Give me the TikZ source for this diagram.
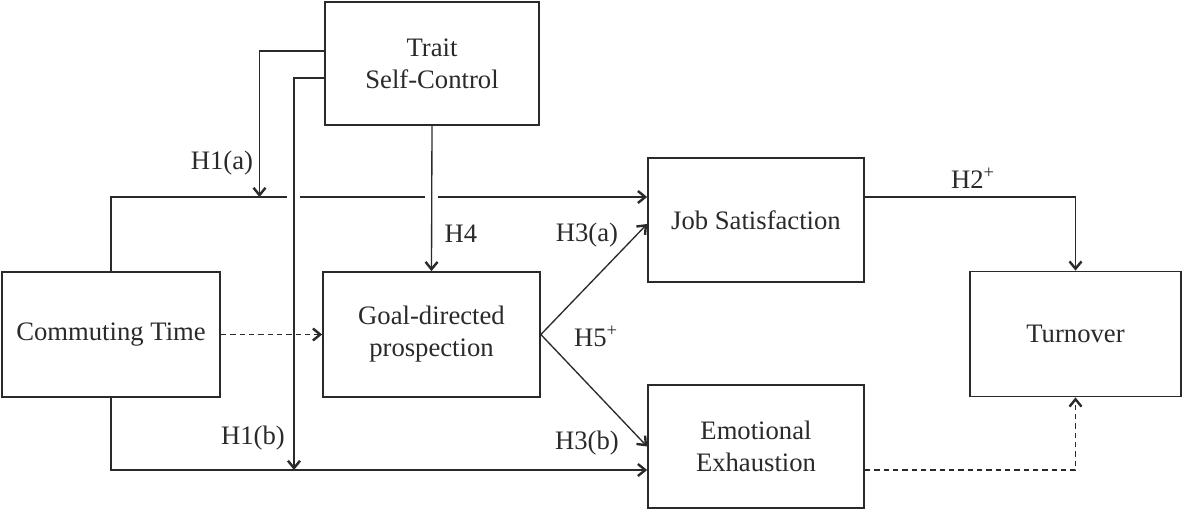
\documentclass[tikz,border=0pt]{standalone}
\usepackage{fontspec}
\setmainfont{Liberation Serif}
\usetikzlibrary{arrows.meta}
\definecolor{ink}{HTML}{2A2A2A}
\begin{document}
\begin{tikzpicture}[x=0.75pt,y=-0.75pt,
  box/.style={draw=ink,line width=1.3pt,rectangle,inner sep=0pt,align=center,
    font=\fontsize{20}{24}\selectfont,text=ink},
  lab/.style={inner sep=0pt,font=\fontsize{20}{24}\selectfont,text=ink},
  conn/.style={draw=ink,line width=1pt},
  arr/.style={conn,-{Straight Barb[length=5.5pt,width=9pt,line width=1.8pt]}},
  dsh/.style={dash pattern=on 4pt off 3pt}]
\useasboundingbox (0,0) rectangle (1183,511);
\fill[white] (0,0) rectangle (1183,511);
% boxes
\node[box,minimum width=214*0.75pt,minimum height=123*0.75pt] (trait) at (432,63.5) {Trait\\Self-Control};
\node[box,minimum width=218*0.75pt,minimum height=125*0.75pt] (commute) at (111,334.5) {Commuting Time};
\node[box,minimum width=217*0.75pt,minimum height=125*0.75pt] (goal) at (431.5,334.5) {Goal-directed\\prospection};
\node[box,minimum width=216*0.75pt,minimum height=124*0.75pt] (job) at (756,220) {Job Satisfaction};
\node[box,minimum width=216*0.75pt,minimum height=123*0.75pt] (emo) at (756,446.5) {Emotional\\Exhaustion};
\node[box,minimum width=211*0.75pt,minimum height=125*0.75pt] (turn) at (1075.5,334) {Turnover};
% junction points
\coordinate (h1a) at (259.5,197);
\coordinate (h1b) at (294,470);
% top and bottom paths from commuting time
\draw[arr] (commute.north) |- (job.west |- h1a);
\draw[arr] (commute.south) |- (emo.west |- h1b);
% gaps in top line
\fill[white] (287,192) rectangle (300,202);
\fill[white] (425,192) rectangle (438,202);
% moderation lines
\draw[arr] (trait.west |- {(0,51)}) -| (h1a);
\draw[arr] (trait.west |- {(0,78)}) -| (h1b);
\draw[arr] (trait.south) -- (goal.north);
% mediation
\draw[arr,dsh] (commute.east) -- (goal.west);
\draw[arr] (goal.east) -- ([yshift=-3pt]job.west);
\draw[arr] (goal.east) -- (emo.west);
% outcomes
\draw[arr] (job.east |- h1a) -| (turn.north);
\draw[arr,dsh] (emo.east |- h1b) -| (turn.south);
% labels
\node[lab] (la) at (222,163) {H1(a)};
\node[lab] (lb) at (253,438) {H1(b)};
\node[lab] (l4) at (461,234) {H4};
\node[lab] (l3a) at (587,235) {H3(a)};
\node[lab] (l5) at (596,336) {H5\textsuperscript{+}};
\node[lab] (l3b) at (587,443) {H3(b)};
\node[lab] (l2) at (973,178) {H2\textsuperscript{+}};
\end{tikzpicture}
\end{document}
